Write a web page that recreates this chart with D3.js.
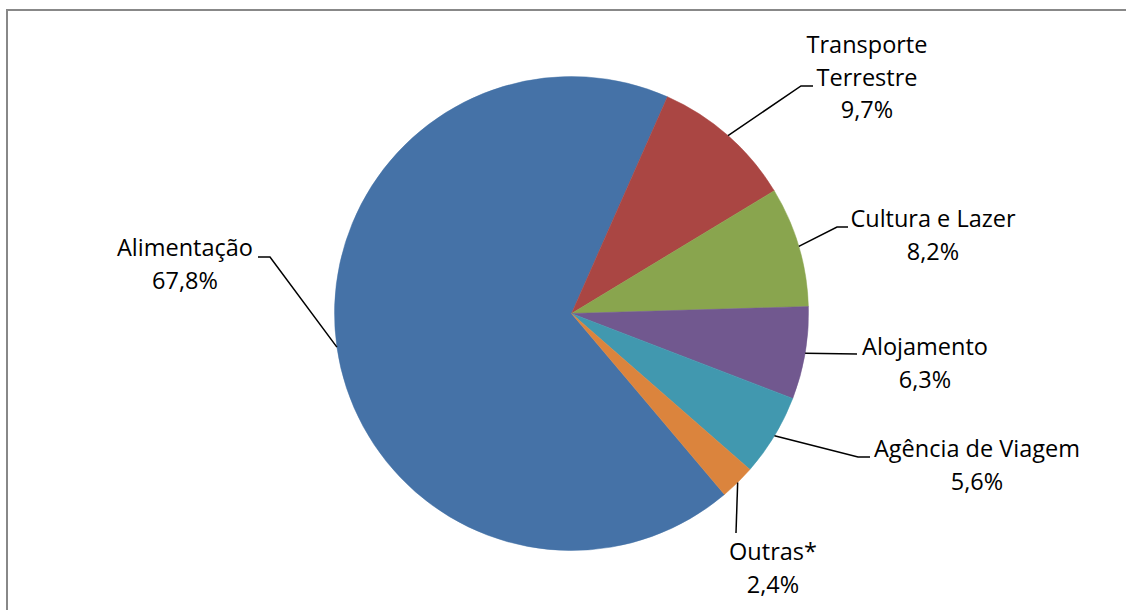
<!DOCTYPE html>
<html>
<head>
<meta charset="utf-8">
<script src="https://cdn.jsdelivr.net/npm/d3@7"></script>
<style>
  html, body { margin: 0; padding: 0; background: #fff; overflow: hidden; width: 1126px; height: 610px; }
  svg { display: block; position: absolute; left: 0; top: 0; }
  text { font-family: "Open Sans", "Noto Sans", sans-serif; font-size: 23.5px; fill: #000; }
</style>
</head>
<body>
<svg id="chart" width="1126" height="610"></svg>
<script>
// Distribution of spending by category (%)
const categories = ["Alimentação", "Transporte Terrestre", "Cultura e Lazer", "Alojamento", "Agência de Viagem", "Outras*"];
const values = [67.8, 9.7, 8.2, 6.3, 5.6, 2.4];
const labelLines = [["Alimentação"], ["Transporte", "Terrestre"], ["Cultura e Lazer"], ["Alojamento"], ["Agência de Viagem"], ["Outras*"]];
const colors = ["#4572A7", "#AA4643", "#89A54E", "#71588F", "#4198AF", "#DB843D"];

// Label placement: text anchor point (center x, first baseline y) and the leader-line elbow points
const labelLayout = [
  { x: 185, y: 256, path: [[270, 257], [258, 257]] },
  { x: 867, y: 53,  path: [[801, 86], [813, 86]] },
  { x: 933, y: 227, path: [[837, 227], [848, 227]] },
  { x: 925, y: 355, path: [[857, 354]] },
  { x: 977, y: 457, path: [[858, 457], [870, 457]] },
  { x: 773, y: 560, path: [[736, 533]] }
];

const svg = d3.select("#chart");
const cx = 571.5, cy = 313.5, radius = 237;
const lineHeight = 32.5;

// Chart-area border (top and left edges; the rest runs off the page)
svg.append("line")
  .attr("x1", 7).attr("y1", 10).attr("x2", 7).attr("y2", 610)
  .attr("stroke", "#888").attr("stroke-width", 2);
svg.append("line")
  .attr("x1", 6).attr("y1", 10).attr("x2", 1126).attr("y2", 10)
  .attr("stroke", "#888").attr("stroke-width", 2);

const startDeg = 139.8;
const pie = d3.pie().sort(null).value(d => d)
  .startAngle(startDeg * Math.PI / 180)
  .endAngle((startDeg + 360) * Math.PI / 180);
const arcs = pie(values);
const arc = d3.arc().innerRadius(0).outerRadius(radius);

const g = svg.append("g").attr("transform", `translate(${cx},${cy})`);
g.selectAll("path.slice")
  .data(arcs)
  .join("path")
  .attr("class", "slice")
  .attr("d", arc)
  .attr("fill", (d, i) => colors[i])
  .attr("stroke", (d, i) => colors[i])
  .attr("stroke-width", 0.5);

const fmt = v => d3.format(".1f")(v).replace(".", ",") + "%";

arcs.forEach((d, i) => {
  const mid = (d.startAngle + d.endAngle) / 2;
  const sx = cx + radius * Math.sin(mid);
  const sy = cy - radius * Math.cos(mid);
  const pts = [[sx, sy]].concat(labelLayout[i].path);
  svg.append("path")
    .attr("d", d3.line()(pts))
    .attr("fill", "none")
    .attr("stroke", "#000")
    .attr("stroke-width", 1.5);

  const lines = labelLines[i].concat([fmt(values[i])]);
  const t = svg.append("text")
    .attr("text-anchor", "middle")
    .attr("x", labelLayout[i].x)
    .attr("y", labelLayout[i].y);
  lines.forEach((ln, k) => {
    t.append("tspan")
      .attr("x", labelLayout[i].x)
      .attr("dy", k === 0 ? 0 : lineHeight)
      .text(ln);
  });
});
</script>
</body>
</html>
